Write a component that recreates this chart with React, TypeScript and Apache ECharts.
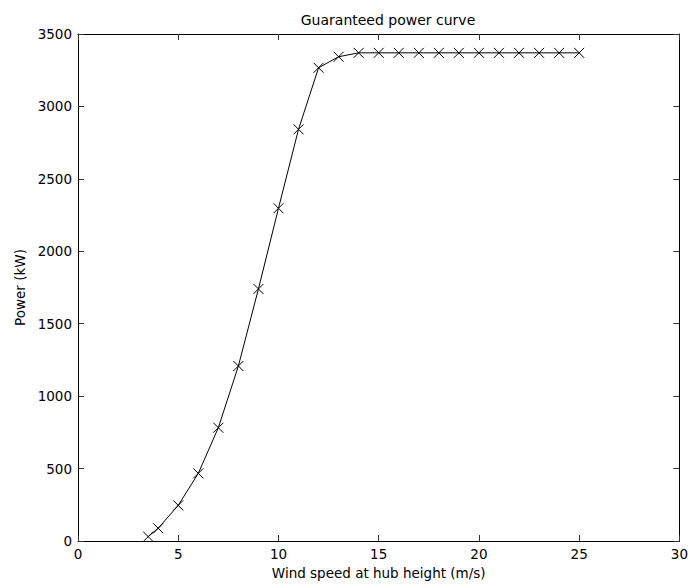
import React, { useEffect, useRef } from "react";
import * as echarts from "echarts";

const windSpeed = [3.5, 4, 5, 6, 7, 8, 9, 10, 11, 12, 13, 14, 15, 16, 17, 18, 19, 20, 21, 22, 23, 24, 25];
const powerKW = [30, 88, 246, 467, 782, 1208, 1740, 2297, 2842, 3267, 3343, 3370, 3370, 3370, 3370, 3370, 3370, 3370, 3370, 3370, 3370, 3370, 3370];
const xTicks = { min: 0, max: 30, interval: 5 };
const yTicks = { min: 0, max: 3500, interval: 500 };

const FONT = "DejaVu Sans";

export default function App() {
  const ref = useRef<HTMLDivElement>(null);
  useEffect(() => {
    if (!ref.current) return;
    const chart = echarts.init(ref.current, undefined, { renderer: "svg" });
    const data = windSpeed.map((x, i) => [x, powerKW[i]]);
    const axisCommon = {
      axisLine: { show: true, onZero: false, lineStyle: { color: "#000", width: 1 } },
      axisTick: { show: true, inside: true, length: 6, lineStyle: { color: "#333", width: 1 } },
      splitLine: { show: false },
    };
    const plain = (v: number) => String(v);
    chart.setOption({
      animation: false,
      backgroundColor: "#fff",
      title: {
        text: "Guaranteed power curve",
        left: 383,
        top: 8,
        textAlign: "center",
        textStyle: { fontFamily: FONT, fontSize: 14, fontWeight: "normal", color: "#000" },
      },
      grid: { left: 78, right: 10, top: 34, bottom: 44, containLabel: false },
      xAxis: [
        {
          type: "value",
          position: "bottom",
          ...xTicks,
          name: "Wind speed at hub height (m/s)",
          nameLocation: "middle",
          nameGap: 22,
          nameTextStyle: { fontFamily: FONT, fontSize: 13.5, color: "#000" },
          axisLabel: { fontFamily: FONT, fontSize: 13.5, color: "#000", margin: 6, formatter: plain },
          ...axisCommon,
        },
        {
          type: "value",
          position: "top",
          ...xTicks,
          axisLabel: { show: false },
          ...axisCommon,
        },
      ],
      yAxis: [
        {
          type: "value",
          position: "left",
          ...yTicks,
          name: "Power (kW)",
          nameLocation: "middle",
          nameGap: 43,
          nameRotate: 90,
          nameTextStyle: { fontFamily: FONT, fontSize: 13.5, color: "#000" },
          axisLabel: { fontFamily: FONT, fontSize: 13.5, color: "#000", margin: 6, formatter: plain },
          ...axisCommon,
        },
        {
          type: "value",
          position: "right",
          ...yTicks,
          axisLabel: { show: false },
          ...axisCommon,
        },
      ],
      series: [
        {
          type: "line",
          xAxisIndex: 0,
          yAxisIndex: 0,
          data,
          symbol: "path://M0,0L10,10M10,0L0,10",
          symbolSize: 10,
          showAllSymbol: true,
          lineStyle: { color: "#000", width: 1 },
          itemStyle: { color: "rgba(0,0,0,0)", borderColor: "#000", borderWidth: 1 },
          emphasis: { disabled: true },
        },
      ],
    });
    return () => chart.dispose();
  }, []);
  return (
    <div
      ref={ref}
      style={{ position: "absolute", left: 0, top: 0, width: 691, height: 585 }}
    />
  );
}
